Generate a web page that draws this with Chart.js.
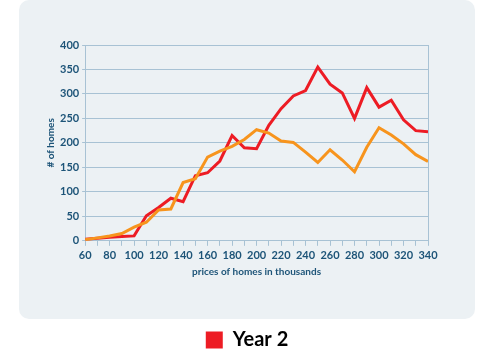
<!DOCTYPE html>
<html>
<head>
<meta charset="utf-8">
<script src="https://cdn.jsdelivr.net/npm/chart.js@4/dist/chart.umd.min.js"></script>
<style>
  html,body{margin:0;padding:0;background:#ffffff;width:494px;height:360px;overflow:hidden;}
  #card{position:absolute;left:19px;top:0px;width:456px;height:319px;background:#ecf1f4;border-radius:10px;}
  #c{position:absolute;left:0;top:0;}
</style>
</head>
<body>
<div id="card"></div>
<canvas id="c" width="494" height="360"></canvas>
<script>
const prices = [60,70,80,90,100,110,120,130,140,150,160,170,180,190,200,210,220,230,240,250,260,270,280,290,300,310,320,330,340];
const year1 = [2,6,10,15,28,38,63,65,119,127,171,183,193,207,227,220,204,201,181,160,186,165,141,191,231,216,198,176,162];
const year2 = [3,5,7,9,10,51,68,87,80,133,139,163,215,190,188,236,270,296,307,355,320,302,250,313,273,287,247,225,223];
const seriesNames = ['Year 1','Year 2'];
const xTitle = 'prices of homes in thousands';
const yTitle = '# of homes';

const gridColor = '#a8c2d4';
const tickColor = '#1d5478';
const fontFam = "'Lato', 'Open Sans', sans-serif";

new Chart(document.getElementById('c'), {
  type: 'line',
  data: {
    datasets: [
      { label: seriesNames[0], data: prices.map((p,i)=>({x:p,y:year1[i]})), borderColor:'#f7941d', backgroundColor:'#f7941d', borderWidth:3, pointRadius:0, tension:0 },
      { label: seriesNames[1], data: prices.map((p,i)=>({x:p,y:year2[i]})), borderColor:'#ed1c24', backgroundColor:'#ed1c24', borderWidth:3, pointRadius:0, tension:0 }
    ]
  },
  options: {
    responsive:false, animation:false,
    layout:{ padding:{ left:45, right:45, top:45, bottom:0 } },
    plugins:{
      legend:{
        position:'bottom',
        labels:{
          filter: item => item.text === 'Year 2',
          boxWidth:17, boxHeight:17, padding:8,
          color:'#444444',
          font:{ family:fontFam, size:20, weight:'bold' },
          generateLabels: chart => chart.data.datasets.map((d,i)=>({text:d.label, fillStyle:d.borderColor, strokeStyle:d.borderColor, lineWidth:0, datasetIndex:i, hidden:false}))
        }
      },
      tooltip:{enabled:false}
    },
    scales:{
      x:{
        type:'linear', min:60, max:340,
        ticks:{ stepSize:10, autoSkip:false, maxRotation:0, color:tickColor, padding:3,
          font:{ family:fontFam, size:11, weight:'bold' },
          callback: v => (v % 20 === 0 ? String(v) : '') },
        grid:{ color: ctx => (ctx.tick && ctx.tick.value === 340 ? gridColor : 'rgba(0,0,0,0)'), tickColor:gridColor, tickLength:5, lineWidth:1 },
        border:{ display:true, color:gridColor, width:1 },
        title:{ display:true, text:xTitle, color:tickColor, font:{ family:fontFam, size:10, weight:'bold' }, padding:{top:1, bottom:44} }
      },
      y:{
        min:0, max:400,
        ticks:{ stepSize:50, color:tickColor, padding:3, font:{ family:fontFam, size:11, weight:'bold' } },
        grid:{ color:gridColor, tickColor:gridColor, tickLength:3, lineWidth:1 },
        border:{ display:true, color:gridColor, width:1 },
        title:{ display:true, text:yTitle, color:tickColor, font:{ family:fontFam, size:10, weight:'bold' }, padding:{top:0,bottom:0} }
      },
      ySpacer:{
        position:'right', min:0, max:400, display:true,
        ticks:{ display:false }, grid:{ display:false }, border:{ display:false },
        afterFit: scale => { scale.width = 21; }
      }
    }
  }
});
</script>
</body>
</html>
